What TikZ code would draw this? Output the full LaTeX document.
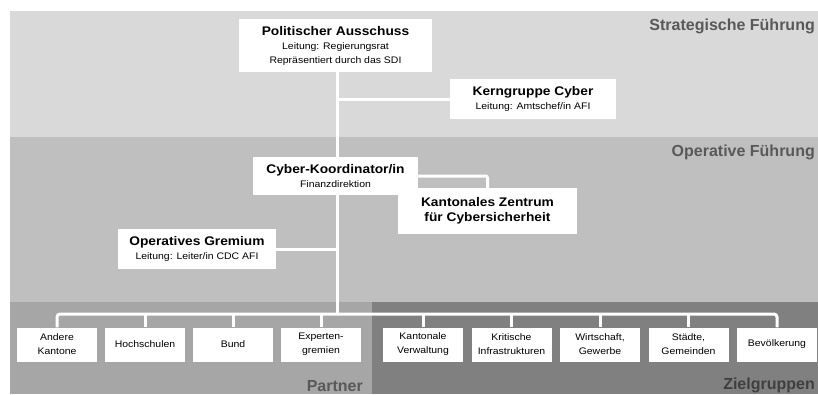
\documentclass[tikz,border=0pt]{standalone}
\usepackage{fontspec}
\setmainfont{Liberation Sans}
\newfontfamily\boxfont{Liberation Sans}[FakeStretch=1.1]
\newcommand\boxttl{\fontsize{12.5}{15}\selectfont\bfseries}
\definecolor{bandA}{HTML}{D9D9D9}
\definecolor{bandB}{HTML}{BFBFBF}
\definecolor{bandC}{HTML}{A6A6A6}
\definecolor{bandD}{HTML}{808080}
\definecolor{labgray}{HTML}{595959}
\definecolor{ziegray}{HTML}{3F3F3F}
\pgfdeclarelayer{bg}
\pgfdeclarelayer{lines}
\pgfsetlayers{bg,lines,main}
\begin{document}
\begin{tikzpicture}[x=1pt,y=-1pt,
  box/.style={fill=white, inner sep=0pt, align=center, text=black,
    font=\boxfont\fontsize{9.5}{14}\selectfont},
  bbox/.style={box, minimum width=80pt, minimum height=34pt},
  conn/.style={draw=white, line width=3pt},
  lbl/.style={font=\fontsize{16}{16}\selectfont\bfseries, anchor=east, text=labgray, inner sep=0pt}]
\useasboundingbox (0,0) rectangle (818,394);
\begin{pgfonlayer}{bg}
\fill[bandA] (9.5,11) rectangle (818,137);
\fill[bandB] (9.5,137) rectangle (818,302);
\fill[bandC] (9.5,302) rectangle (372,394);
\fill[bandD] (372,302) rectangle (818,394);
\end{pgfonlayer}

\node[lbl] (sf) at (815,26) {Strategische Führung};
\node[lbl] (of) at (815,152) {Operative Führung};
\node[lbl] (pa) at (363,386) {Partner};
\node[lbl, text=ziegray] (zg) at (815,385) {Zielgruppen};

\node[box, minimum width=193pt, minimum height=53pt] (pol) at (335.5,45.5)
  {{\boxttl Politischer Ausschuss}\\Leitung: Regierungsrat\\Repräsentiert durch das SDI};
\node[box, minimum width=166pt, minimum height=40pt] (kern) at (533,99)
  {{\boxttl Kerngruppe Cyber}\\Leitung: Amtschef/in AFI};
\node[box, minimum width=165pt, minimum height=38pt] (cyber) at (335.5,176)
  {{\boxttl Cyber-Koordinator/in}\\Finanzdirektion};
\node[box, minimum width=179pt, minimum height=46pt, font=\boxfont\boxttl\fontsize{12.5}{15}\selectfont] (kant) at (487.5,211)
  {Kantonales Zentrum\\für Cybersicherheit};
\node[box, minimum width=158pt, minimum height=40pt] (oper) at (197,249)
  {{\boxttl Operatives Gremium}\\Leitung: Leiter/in CDC AFI};

\node[bbox] (p1) at (57,344.5) {Andere\\Kantone};
\node[bbox] (p2) at (145,344.5) {Hochschulen};
\node[bbox] (p3) at (233,344.5) {Bund};
\node[bbox] (p4) at (321,344.5) {Experten-\\gremien};
\node[bbox] (z1) at (423,344.5) {Kantonale\\Verwaltung};
\node[bbox] (z2) at (511.5,344.5) {Kritische\\Infrastrukturen};
\node[bbox] (z3) at (600,344.5) {Wirtschaft,\\Gewerbe};
\node[bbox] (z4) at (688.5,344.5) {Städte,\\Gemeinden};
\node[bbox] (z5) at (777,344.5) {Bevölkerung};

\coordinate (tbus) at (337,314);
\begin{pgfonlayer}{lines}
\draw[conn] (pol.south -| tbus) -- (tbus);
\draw[conn] (kern.west) -- (kern.west -| tbus);
\draw[conn] (oper.east) -- (oper.east -| tbus);
\draw[conn, rounded corners=2pt] (cyber.east) -| (kant.north);
\draw[conn, rounded corners=3pt] (p1.north) |- (tbus) -| (z5.north);
\foreach \b in {p2,p3,p4,z1,z2,z3,z4}
  \draw[conn] (\b.north) -- (\b.north |- tbus);
\end{pgfonlayer}
\end{tikzpicture}
\end{document}
